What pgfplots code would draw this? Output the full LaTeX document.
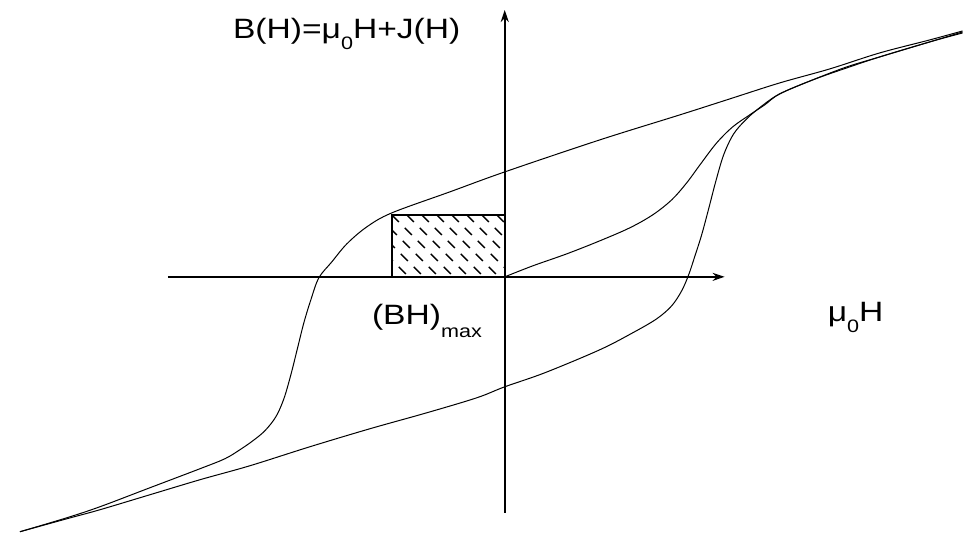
\documentclass[border=0pt]{standalone}
\usepackage{fontspec}
\setmainfont{Liberation Sans}[FakeStretch=1.2]
\usepackage{pgfplots}
\pgfplotsset{compat=1.18}
\usetikzlibrary{arrows.meta}

% subscripts set a little below the baseline
\newcommand\lowsub[2]{\raisebox{-#1}{\fontsize{18}{18}\selectfont #2}}

\begin{document}
\begin{tikzpicture}
\begin{axis}[
  hide axis,
  scale only axis,
  width=963pt, height=533pt,
  xmin=-505, xmax=458,
  ymin=-256, ymax=277,
  clip=false,
]
% keep the whole plotting area as the picture
\path (rel axis cs:0,0) rectangle (rel axis cs:1,1);

% coordinate axes
\addplot[black, line width=1.6pt, -{Stealth[length=12pt,width=8pt]}]
  coordinates {(-337,0) (220,0)};
\addplot[black, line width=1.6pt, -{Stealth[length=12pt,width=8pt]}]
  coordinates {(0,-236) (0,267)};

% descending branch of the major loop
\addplot[black, line width=1pt, smooth, tension=0.55] coordinates {
  (458,246) (425,237) (375,224) (325,208) (275,194) (225,178) (175,162)
  (95,137) (0,105) (-55,85) (-113,64) (-138,50) (-158,33) (-173,15)
  (-186,-1) (-194,-23) (-201,-46) (-207,-70) (-214,-98) (-221,-122)
  (-229,-140) (-240,-154) (-252,-164) (-265,-173) (-280,-182)
  (-305,-192) (-355,-211) (-405,-230) (-438,-241) (-485,-255)
};
% ascending branch of the major loop
\addplot[black, line width=1pt, smooth, tension=0.55] coordinates {
  (-485,-255) (-438,-242) (-405,-233) (-355,-218) (-305,-203)
  (-255,-189) (-195,-170) (-135,-152) (-78,-136) (-28,-121) (0,-110)
  (40,-96) (95,-73) (128,-56) (152,-42) (167,-29) (177,-14) (184,2)
  (190,20) (197,42) (204,68) (211,95) (219,122) (229,143) (242,158)
  (256,170) (275,183) (308,197) (342,209) (375,220) (425,235) (458,244)
};
% initial magnetisation curve
\addplot[black, line width=1pt, smooth, tension=0.55] coordinates {
  (0,0) (28,11) (62,23) (95,36) (125,49) (148,62) (167,77) (182,94)
  (196,113) (212,134) (228,150) (245,162) (260,172) (275,183)
  (308,197) (342,210) (375,220) (425,235) (458,245)
};

\coordinate (R1) at (axis cs:-113,0);
\coordinate (R2) at (axis cs:0,62);

\node[anchor=base west, inner sep=0pt, font=\fontsize{28}{30}\selectfont]
  at (axis cs:-272,238) {B(H)=μ\lowsub{11pt}{0}H+J(H)};
\node[anchor=base west, inner sep=0pt, font=\fontsize{28}{30}\selectfont]
  at (axis cs:-133,-48) {(BH)\lowsub{13pt}{max}};
\node[anchor=base west, inner sep=0pt, font=\fontsize{28}{30}\selectfont]
  at (axis cs:323,-45) {μ\lowsub{11pt}{0}H};
\end{axis}

% hatched (BH)max rectangle
\begin{scope}
  \clip (R1) rectangle (R2);
  \foreach \k in {-75,-60,...,120}
    \draw[black, line width=1.4pt, dash pattern=on 10pt off 8.4pt]
      ([xshift=\k pt]R1 |- R2) -- ++(75pt,-75pt);
\end{scope}
\draw[black, line width=2.2pt] (R1) rectangle (R2);
\end{tikzpicture}
\end{document}
